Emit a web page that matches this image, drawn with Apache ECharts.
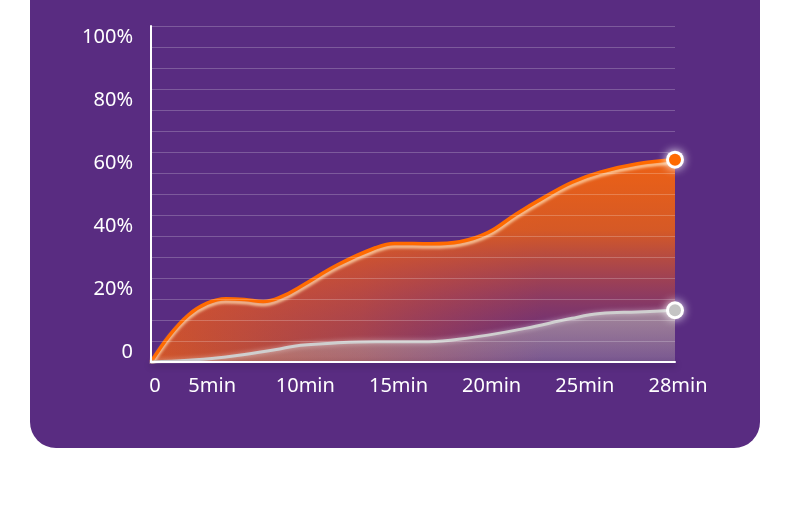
<!DOCTYPE html>
<html>
<head>
<meta charset="utf-8">
<style>
  html, body { margin: 0; padding: 0; background: #ffffff; }
  #chart { width: 790px; height: 529px; }
</style>
<script src="https://cdn.jsdelivr.net/npm/echarts@6/dist/echarts.min.js"></script>
</head>
<body>
<div id="chart"></div>
<script>
// ---- data ----
const xTickLabels = ['0', '5min', '10min', '15min', '20min', '25min', '28min'];
const yTickValues = [0, 20, 40, 60, 80, 100];
// [minute, percent]
const orangeSeries = [[0,0],[1,8],[2,14],[3,17.5],[4,18.8],[5,18.6],[6,18],[7,19.5],[8,22.5],[10,29],[12,34],[13,35.3],[15,35.2],[16.5,35.8],[18,38.5],[19.5,44],[21,49],[22.5,53.5],[24,56.5],[26,59],[28,60.2]];
const graySeries = [[0,0],[2,0.5],[4,1.5],[5,2.2],[7,4],[8,5],[10,5.7],[12,6],[14.5,6],[16,6.5],[18,8],[20,10],[22.5,13],[24,14.4],[26,14.9],[28,15.4]];

const chart = echarts.init(document.getElementById('chart'), null, { renderer: 'canvas' });
const FONT = 'Noto Sans';

function endMarker(point, fill) {
  return [
    { type: 'scatter', xAxisIndex: 0, yAxisIndex: 0, z: 5, silent: true,
      data: [point], symbolSize: 18,
      itemStyle: { color: '#ffffff', opacity: 1, shadowColor: 'rgba(255,255,255,0.95)', shadowBlur: 10 } },
    { type: 'scatter', xAxisIndex: 0, yAxisIndex: 0, z: 6,
      data: [point], symbolSize: 12,
      itemStyle: { color: fill, opacity: 1 } }
  ];
}

const option = {
  animation: false,
  graphic: [{
    type: 'rect', z: -10, silent: true,
    shape: { x: 30, y: -40, width: 730, height: 488, r: [0, 0, 26, 26] },
    style: { fill: '#592c81' }
  }],
  grid: [
    { left: 151, top: 26, width: 524, height: 336 },           // data grid
    { left: 151, top: 37, width: 524, height: 315 },           // y label grid
    { left: 119, top: 26, width: 559, height: 336 }            // x label grid
  ],
  xAxis: [
    { gridIndex: 0, type: 'value', min: 0, max: 28, z: 4,
      axisLine: { show: true, lineStyle: { color: '#ffffff', width: 2, shadowColor: 'rgba(0,0,0,0.35)', shadowBlur: 6, shadowOffsetY: 3 } },
      axisTick: { show: false }, axisLabel: { show: false }, splitLine: { show: false } },
    { gridIndex: 1, type: 'value', min: 0, max: 1, show: false },
    { gridIndex: 2, type: 'category', boundaryGap: false, data: xTickLabels,
      axisLine: { show: false }, axisTick: { show: false }, splitLine: { show: false },
      axisLabel: { color: '#ffffff', fontSize: 20, fontFamily: FONT, margin: 14, interval: 0,
        formatter: (v, i) => i === 0 ? '{first|' + v + '}' : v,
        rich: { first: { padding: [0, 0, 0, 72], color: '#ffffff', fontSize: 20, fontFamily: FONT } } } }
  ],
  yAxis: [
    { gridIndex: 0, type: 'value', min: 0, max: 100, interval: 6.25, z: 4,
      axisLine: { show: true, lineStyle: { color: '#ffffff', width: 2 } },
      axisTick: { show: false }, axisLabel: { show: false },
      splitLine: { show: true, lineStyle: { color: 'rgba(255,255,255,0.22)', width: 1 } } },
    { gridIndex: 1, type: 'value', min: 0, max: 100, interval: 20,
      axisLine: { show: false }, axisTick: { show: false }, splitLine: { show: false },
      axisLabel: { color: '#ffffff', fontSize: 20, fontFamily: FONT, margin: 18,
        formatter: v => v === 0 ? '0' : v + '%' } },
    { gridIndex: 2, type: 'value', min: 0, max: 1, show: false }
  ],
  series: [
    {
      // horizontal warm tint for the left part of the orange area
      type: 'line', xAxisIndex: 0, yAxisIndex: 0, z: 1,
      data: orangeSeries, smooth: 0.4, showSymbol: false, symbol: 'none',
      lineStyle: { width: 0, opacity: 0 },
      areaStyle: {
        opacity: 1,
        color: new echarts.graphic.LinearGradient(0, 0, 1, 0, [
          { offset: 0, color: 'rgba(235,95,20,0.85)' },
          { offset: 0.4, color: 'rgba(230,90,30,0.5)' },
          { offset: 0.75, color: 'rgba(220,80,50,0)' }
        ])
      }
    },
    {
      type: 'line', xAxisIndex: 0, yAxisIndex: 0, z: 2,
      data: orangeSeries, smooth: 0.4, showSymbol: false, symbol: 'none',
      lineStyle: { color: '#ff6a00', width: 3.5, shadowColor: 'rgba(255,215,170,0.9)', shadowBlur: 3, shadowOffsetY: 3 },
      areaStyle: {
        opacity: 1,
        color: new echarts.graphic.LinearGradient(0, 0, 0, 1, [
          { offset: 0, color: 'rgba(245,100,15,0.95)' },
          { offset: 0.35, color: 'rgba(235,97,22,0.85)' },
          { offset: 0.65, color: 'rgba(215,80,50,0.45)' },
          { offset: 1, color: 'rgba(170,60,90,0.05)' }
        ])
      }
    },
    {
      type: 'line', xAxisIndex: 0, yAxisIndex: 0, z: 3,
      data: graySeries, smooth: 0.4, showSymbol: false, symbol: 'none',
      lineStyle: { color: '#cfcfcf', width: 3, shadowColor: 'rgba(255,255,255,0.5)', shadowBlur: 5 },
      areaStyle: {
        opacity: 1,
        color: new echarts.graphic.LinearGradient(0, 0, 0, 1, [
          { offset: 0, color: 'rgba(185,185,185,0.62)' },
          { offset: 1, color: 'rgba(185,185,185,0.3)' }
        ])
      }
    },
    ...endMarker(orangeSeries[orangeSeries.length - 1], '#ff6a00'),
    ...endMarker(graySeries[graySeries.length - 1], '#c4c4c4')
  ]
};
chart.setOption(option);
</script>
</body>
</html>
